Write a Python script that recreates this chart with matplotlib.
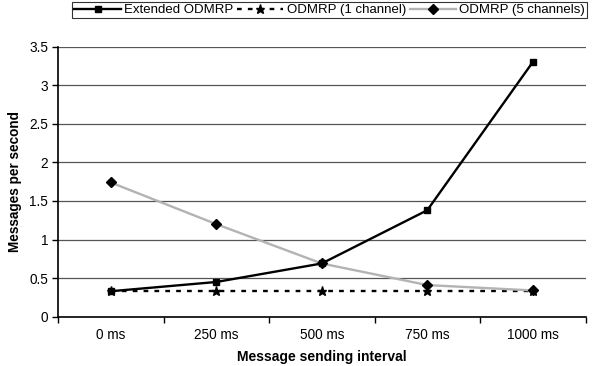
import numpy as np
import matplotlib.pyplot as plt
from matplotlib.ticker import FuncFormatter

plt.rcParams['font.family'] = ['Liberation Sans', 'DejaVu Sans']

# Data
intervals = ["0 ms", "250 ms", "500 ms", "750 ms", "1000 ms"]
extended = [0.33, 0.45, 0.69, 1.38, 3.30]
odmrp_1ch = [0.33, 0.33, 0.33, 0.33, 0.33]
odmrp_5ch = [1.74, 1.20, 0.69, 0.41, 0.34]

x = np.arange(len(intervals))

fig = plt.figure(figsize=(5.95, 3.66), dpi=100)
ax = fig.add_axes([58 / 595, 1 - 316.7 / 366, (585.5 - 58) / 595, (316.7 - 46.7) / 366])

ax.plot(x, extended, color='black', lw=1.7, marker='s', ms=5,
        label='Extended ODMRP', zorder=4)
ax.plot(x, odmrp_1ch, color='black', lw=1.7, ls=(0, (2, 2.6)), marker='*', ms=6.5,
        label='ODMRP (1 channel)', zorder=3)
ax.plot(x, odmrp_5ch, color='#b3b3b3', lw=1.7, marker='D', ms=5.5, mfc='black', mec='black',
        label='ODMRP (5 channels)', zorder=3)

ax.set_xlim(-0.5, len(intervals) - 0.5)
ax.set_ylim(0, 3.5)
ax.set_yticks(np.arange(0, 3.51, 0.5))
ax.yaxis.set_major_formatter(FuncFormatter(lambda v, p: f"{v:g}"))
ax.set_xticks(x)
ax.set_xticklabels(intervals)
ax.set_xticks(np.arange(-0.5, len(intervals), 1.0), minor=True)
ax.tick_params(axis='x', which='major', length=0, pad=8, labelsize=9.8)
ax.tick_params(axis='x', which='minor', length=4, width=1, direction='out')
ax.tick_params(axis='y', length=4, width=1, direction='out', labelsize=9.8, pad=3)

ax.grid(axis='y', color='#555555', lw=0.9)
ax.set_axisbelow(True)
for s in ['top', 'right']:
    ax.spines[s].set_visible(False)
for s in ['left', 'bottom']:
    ax.spines[s].set_linewidth(1.2)
    ax.spines[s].set_zorder(5)

ax.set_xlabel("Message sending interval", fontsize=10, fontweight='bold', labelpad=6)
ax.set_ylabel("Messages per second", fontsize=9.8, fontweight='bold', labelpad=5)

leg = fig.legend(loc='upper right', bbox_to_anchor=(587 / 595, 1 - 2 / 366), ncol=3,
                 fontsize=9.5, frameon=True, fancybox=False, edgecolor='black',
                 handlelength=3.5, handletextpad=0.25, columnspacing=0.3,
                 borderpad=0.15, borderaxespad=0)
leg.get_frame().set_linewidth(0.8)

fig.savefig("out.png", dpi=100)
